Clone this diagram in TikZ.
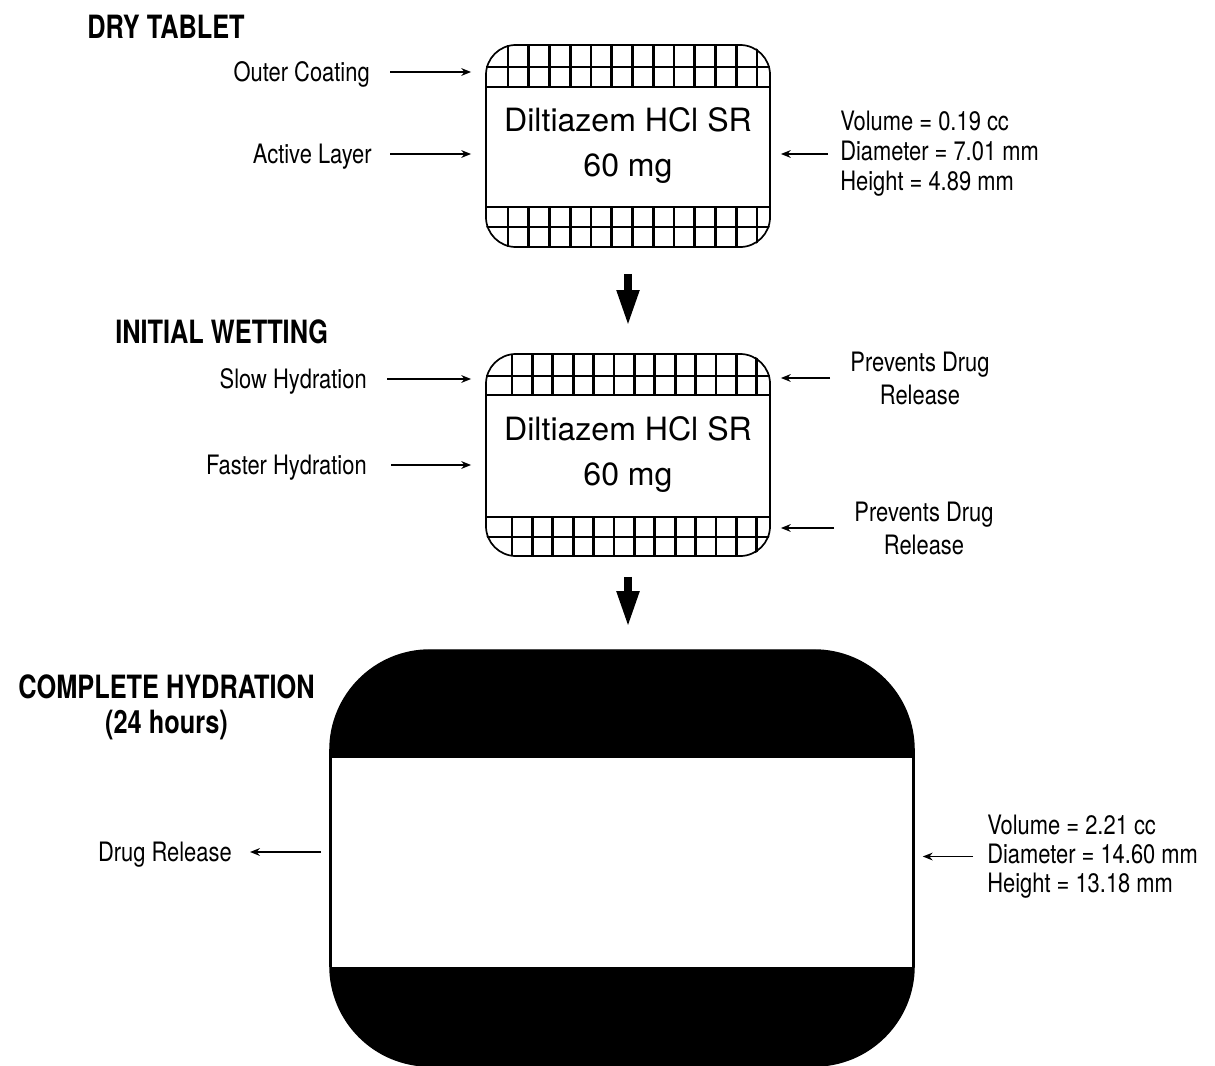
\documentclass[tikz,border=0pt]{standalone}
\usepackage{fontspec}
\setmainfont{TeX Gyre Heros}
\newfontfamily\condfont{TeX Gyre Heros}[FakeStretch=0.82]
\newfontfamily\headfont{TeX Gyre Heros}[FakeStretch=0.79]
\usetikzlibrary{arrows.meta}

\begin{document}
\begin{tikzpicture}[x=0.025cm, y=-0.025cm]
  % Define styles
  \tikzstyle{tablet} = [rectangle, draw, line width=1.2pt, rounded corners=0.75cm, minimum width=7.1cm, minimum height=5.05cm, inner sep=0pt, align=center, font=\fontsize{22.8}{32}\selectfont]
  \tikzstyle{hatch} = [line width=2.1pt]
  \tikzstyle{heading} = [font=\headfont\bfseries\fontsize{22.8}{24.9}\selectfont, inner sep=0pt]
  \tikzstyle{sidetext} = [font=\condfont\fontsize{19}{21.3}\selectfont, inner sep=0pt, text height=13.6pt, text depth=0pt]
  \tikzstyle{sideblock} = [font=\condfont\fontsize{19}{21.3}\selectfont, inner sep=0pt]
  \tikzstyle{pointer} = [line width=1.2pt, -{Stealth[length=7pt, width=5.5pt]}]
  \tikzstyle{bigarrow} = [line width=0.2cm, -{Triangle[length=0.9cm, width=0.52cm]}]

  \useasboundingbox (0,0) rectangle (1215,1065);

  % Headings
  \node[heading, anchor=base west] (head1) at (87,38) {DRY TABLET};
  \node[heading, anchor=base west] (head2) at (115,343) {INITIAL WETTING};
  \node[heading, align=center] (head3) at (166.5,707.5) {COMPLETE HYDRATION\\(24 hours)};

  % Dry tablet
  \node[tablet] (dry) at (628,146) {Diltiazem HCl SR\\60 mg};
  \begin{scope}
    \clip[rounded corners=0.75cm] (dry.north west) rectangle (dry.south east);
    \foreach \k in {0,...,12} {
      \draw[hatch] (508+20.75*\k,45) -- (508+20.75*\k,87);
      \draw[hatch] (508+20.75*\k,207) -- (508+20.75*\k,247);
    }
    \draw[line width=1.7pt] (486,67) -- (770,67);
    \draw[line width=1.7pt] (486,227) -- (770,227);
    \draw[line width=0.8pt] (486,87) -- (770,87);
    \draw[line width=0.8pt] (486,207) -- (770,207);
  \end{scope}

  % Initial wetting
  \node[tablet] (wet) at (628,455) {Diltiazem HCl SR\\60 mg};
  \begin{scope}
    \clip[rounded corners=0.75cm] (wet.north west) rectangle (wet.south east);
    \foreach \k in {0,...,12} {
      \draw[hatch] (512+20.4*\k,355) -- (512+20.4*\k,395);
      \draw[hatch] (512+20.4*\k,517) -- (512+20.4*\k,555);
    }
    \draw[line width=1.7pt] (486,376) -- (770,376);
    \draw[line width=1.7pt] (486,537) -- (770,537);
    \draw[line width=0.8pt] (486,395) -- (770,395);
    \draw[line width=0.8pt] (486,517) -- (770,517);
  \end{scope}

  % Complete hydration
  \node[draw, fill=black, line width=1pt, rounded corners=2.5cm, minimum width=14.6cm, minimum height=10.4cm] (full) at (622,858) {};
  \node[draw, fill=white, line width=1pt, minimum width=14.55cm, minimum height=5.275cm, inner sep=0pt] (core) at (622,862.5) {};

  % Side labels
  \node[sidetext, anchor=east] (outer) at (370,72) {Outer Coating};
  \node[sidetext, anchor=east] (active) at (372,154) {Active Layer};
  \node[sidetext, anchor=east] (slow) at (367,379) {Slow Hydration};
  \node[sidetext, anchor=east] (faster) at (367,465) {Faster Hydration};
  \node[sidetext, anchor=east] (rel) at (232,852) {Drug Release};
  \node[sideblock, anchor=west, align=left] (vol) at (840,154) {Volume = 0.19 cc\\Diameter = 7.01 mm\\Height = 4.89 mm};
  \node[sideblock, align=center, font=\condfont\fontsize{19}{23.5}\selectfont] (prev1) at (920,378) {Prevents Drug\\Release};
  \node[sideblock, align=center, font=\condfont\fontsize{19}{23.5}\selectfont] (prev2) at (924,528) {Prevents Drug\\Release};
  \node[sideblock, anchor=west, align=left, font=\condfont\fontsize{19}{20.6}\selectfont] (dims) at (987,856.5) {Volume = 2.21 cc\\Diameter = 14.60 mm\\Height = 13.18 mm};

  % Connections - stages
  \draw[bigarrow, shorten <=0.65cm, shorten >=0.675cm] (dry) -- (wet);
  \draw[bigarrow, shorten <=0.5cm, shorten >=0.55cm] (wet.south) -- (wet.south |- full.north);

  % Connections - labels
  \draw[pointer, shorten <=0.5cm, shorten >=0.35cm] (outer) -- (outer -| dry.west);
  \draw[pointer, shorten <=0.45cm, shorten >=0.35cm] (active) -- (active -| dry.west);
  \draw[pointer, shorten <=0.3cm, shorten >=0.25cm] (vol) -- (vol -| dry.east);
  \draw[pointer, shorten <=0.5cm, shorten >=0.35cm] (slow) -- (slow -| wet.west);
  \draw[pointer, shorten <=0.6cm, shorten >=0.35cm] (faster) -- (faster -| wet.west);
  \draw[pointer, shorten <=0.5cm, shorten >=0.25cm] (prev1) -- (prev1 -| wet.east);
  \draw[pointer, shorten <=0.5cm, shorten >=0.25cm] (prev2) -- (prev2 -| wet.east);
  \draw[pointer, shorten <=0.35cm, shorten >=0.2cm] (dims) -- (dims -| full.east);
  \draw[pointer, shorten <=0.2cm, shorten >=0.45cm] (full.west |- rel) -- (rel);

\end{tikzpicture}
\end{document}
